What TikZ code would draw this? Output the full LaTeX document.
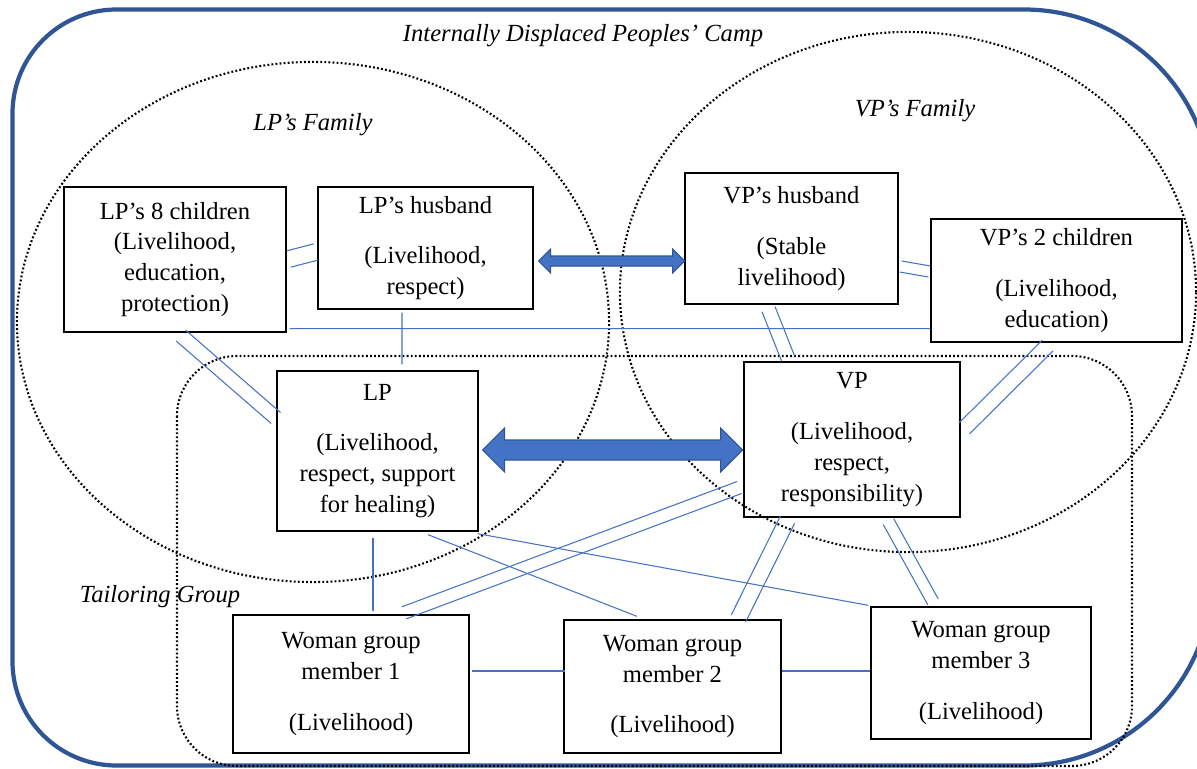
\documentclass[tikz,border=0pt]{standalone}
\usepackage{fontspec}
\setmainfont{Liberation Serif}
\usepackage{tikz}
\usetikzlibrary{calc}
\definecolor{campblue}{HTML}{2F5597}
\definecolor{linkblue}{HTML}{4472C4}

% two parallel lines between two shifted anchors
\newcommand{\twolines}[5]{%
  \coordinate (tla) at ($(#1)+(#2)$);
  \coordinate (tlb) at ($(#3)+(#4)$);
  \draw[link] ($(tla)!#5!90:(tlb)$) -- ($(tlb)!#5!-90:(tla)$);
  \draw[link] ($(tla)!#5!-90:(tlb)$) -- ($(tlb)!#5!90:(tla)$);}
% double headed block arrow: left tip, length, head length, half head, half shaft
\newcommand{\blockarrow}[5]{%
  \filldraw[bigarr] #1 -- ++(#3,-#4) -- ++(0,#4-#5) -- ++(#2-2*#3,0) -- ++(0,#5-#4) -- ++(#3,#4)
    -- ++(-#3,#4) -- ++(0,#5-#4) -- ++(-#2+2*#3,0) -- ++(0,#4-#5) -- cycle;}

\begin{document}
\begin{tikzpicture}[x=0.025cm, y=-0.025cm,
  box/.style={draw, line width=0.9pt, inner sep=0pt, align=center, font=\fontsize{17.5}{22}\selectfont},
  lbl/.style={inner sep=0pt, font=\fontsize{17.5}{22}\selectfont\itshape},
  link/.style={draw=linkblue, line width=0.75pt},
  famline/.style={line width=1.5pt, dash pattern=on 1.3pt off 1.6pt},
  campline/.style={draw=campblue, line width=3pt},
  bigarr/.style={fill=linkblue, draw=campblue, line width=0.8pt}]
\useasboundingbox (0,0) rectangle (1197,769);
\clip (0,0) rectangle (1197,769);

% camp and groups
\draw[campline, rounded corners=2.6cm] (600,9.5) -- (12.5,9.5) -- (12.5,765.5) -- (600,765.5);
\draw[campline, rounded corners=4.7cm] (600,9.5) -- (1212,9.5) -- (1212,765.5) -- (600,765.5);
\draw[famline] (313,322) ellipse [x radius=7.4cm, y radius=6.5cm];
\draw[famline] (908,292) ellipse [x radius=7.2cm, y radius=6.5cm];
\draw[famline, rounded corners=1.5cm] (177,356) rectangle (1132,766);

\node[lbl] (camplbl) at (583,36) {Internally Displaced Peoples’ Camp};
\node[lbl] (lpfamlbl) at (313,125) {LP’s Family};
\node[lbl] (vpfamlbl) at (915,111) {VP’s Family};
\node[lbl] (tglbl) at (160,597) {Tailoring Group};

% people
\node[box, minimum width=5.55cm, minimum height=3.625cm] (lpc) at (175,259.5) {LP’s 8 children\\(Livelihood,\\education,\\protection)};
\node[box, minimum width=5.375cm, minimum height=3.05cm] (lph) at (425.5,248) {LP’s husband\\[14pt](Livelihood,\\respect)};
\node[box, minimum width=5.325cm, minimum height=3.275cm] (vph) at (791.5,238.5) {VP’s husband\\[14pt](Stable\\livelihood)};
\node[box, minimum width=6.275cm, minimum height=3.075cm] (vpc) at (1056.5,280.5) {VP’s 2 children\\[14pt](Livelihood,\\education)};
\node[box, minimum width=5.025cm, minimum height=4cm] (lp) at (377.5,451) {LP\\[14pt](Livelihood,\\respect, support\\for healing)};
\node[box, minimum width=5.4cm, minimum height=3.875cm] (vp) at (852,439.5) {VP\\[14pt](Livelihood,\\respect,\\responsibility)};
\node[box, minimum width=5.9cm, minimum height=3.45cm] (m1) at (351,684) {Woman group\\member 1\\[14pt](Livelihood)};
\node[box, minimum width=5.425cm, minimum height=3.325cm] (m2) at (672.5,686.5) {Woman group\\member 2\\[14pt](Livelihood)};
\node[box, minimum width=5.5cm, minimum height=3.3cm] (m3) at (981,673) {Woman group\\member 3\\[14pt](Livelihood)};

% ties
\twolines{lpc.east}{2,-0.5}{lph.west}{-1.5,4}{0.21cm}
\draw[link] ($(lpc.south east)+(3,-4)$) -- ($(vpc.south west)+(0,-14)$);
\draw[link] ($(lph.south)+(-23.5,3)$) -- ($(lp.north)+(24.5,-6)$);
\twolines{lpc.south}{6,3}{lp.west}{-0.5,-33}{0.18cm}
\twolines{vph.east}{2,28}{vpc.west}{-1,-9}{0.14cm}
\twolines{vph.south}{-23,4.5}{vp.north}{-64,-3}{0.175cm}
\twolines{vpc.south}{-9,3}{vp.east}{3.5,-11}{0.19cm}
\draw[link] ($(lp.south)+(-4.5,6)$) -- ($(m1.north)+(22,-3)$);
\draw[link] ($(lp.south)+(50.5,3)$) -- ($(m2.north)+(-35.5,-3)$);
\draw[link] ($(lp.south east)+(-1,2)$) -- ($(m3.north west)+(-2,-1)$);
\twolines{vp.west}{-4,48}{m1.north}{53,-1.5}{0.16cm}
\twolines{vp.south}{-64.5,2}{m2.north}{66,-1}{0.2cm}
\twolines{vp.south}{36.5,4}{m3.north}{-48,-4.5}{0.15cm}
\draw[link] ($(m1.east)+(2,-13)$) -- ($(m2.west)+(2,-15.5)$);
\draw[link] ($(m2.east)+(0,-15.5)$) -- ($(m3.west)+(0,-2)$);

% exchanges
\blockarrow{($(lph.east)+(5,13)$)}{146}{12}{12}{5}
\blockarrow{($(lp.east)+(4,-1)$)}{260}{22}{22}{10}
\end{tikzpicture}
\end{document}
